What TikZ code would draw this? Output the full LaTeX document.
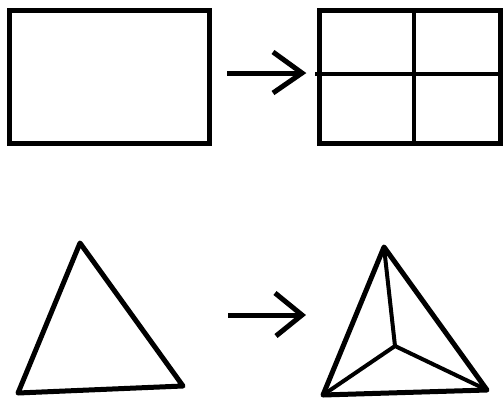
\documentclass[tikz,border=0pt]{standalone}
\begin{document}
\begin{tikzpicture}[x=1pt,y=-1pt,
  boxline/.style={line width=5pt,line join=miter},
  tri/.style={line width=5pt,line join=round,line cap=round},
  innerline/.style={line width=4pt,line cap=round,line join=round},
  arr/.style={line width=5pt,line join=miter}]
\useasboundingbox (0,0) rectangle (504,400);
% top row
\draw[boxline] (9.5,10.5) rectangle (209.5,143.5);
\coordinate (a1s) at (227,73);
\coordinate (a1t) at (302,73);
\draw[arr] (a1s) -- (a1t);
\draw[arr] (273,52) -- (a1t) -- (273,93);
\draw[boxline] (319.5,10.5) rectangle (500,143.5);
\draw[line width=4pt] (315,74) -- (502,74);
\draw[line width=4pt] (414,10.5) -- (414,143.5);
% bottom row
\coordinate (t1) at (80,243);
\coordinate (t2) at (18,393);
\coordinate (t3) at (183,386);
\draw[tri] (t1) -- (t2) -- (t3) -- cycle;
\coordinate (a2s) at (228,315);
\coordinate (a2t) at (302,315);
\draw[arr] (a2s) -- (a2t);
\draw[arr] (275,293) -- (a2t) -- (276,336);
\coordinate (u1) at (384,247);
\coordinate (u2) at (323,395);
\coordinate (u3) at (487,390);
\coordinate (uc) at (395,346);
\draw[tri] (u1) -- (u2) -- (u3) -- cycle;
\draw[innerline] (u1) -- (uc) (u2) -- (uc) (u3) -- (uc);
\end{tikzpicture}
\end{document}
